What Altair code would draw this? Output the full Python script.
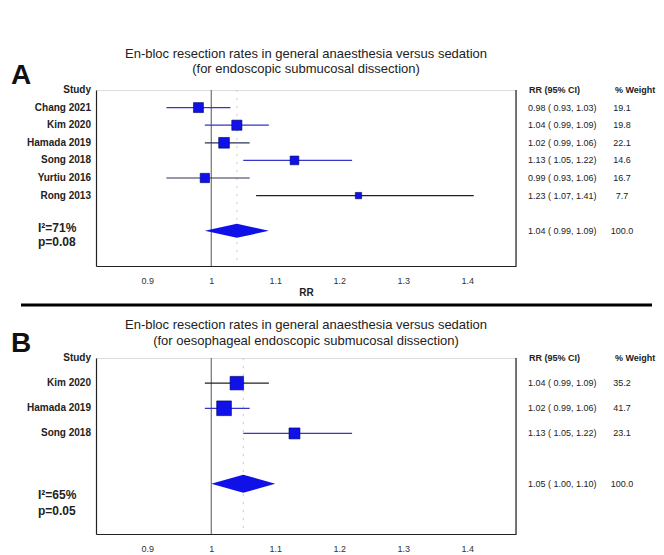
import altair as alt
import pandas as pd

# ---------------- data ----------------
A_title = ["En-bloc resection rates in general anaesthesia versus sedation",
           "(for endoscopic submucosal dissection)"]
A_studies = ["Chang 2021", "Kim 2020", "Hamada 2019", "Song 2018", "Yurtiu 2016", "Rong 2013"]
A_rr = [0.98, 1.04, 1.02, 1.13, 0.99, 1.23]
A_lo = [0.93, 0.99, 0.99, 1.05, 0.93, 1.07]
A_hi = [1.03, 1.09, 1.06, 1.22, 1.06, 1.41]
A_w = [19.1, 19.8, 22.1, 14.6, 16.7, 7.7]
A_pool = [1.04, 0.99, 1.09, 100.0]
A_stats = ["I²=71%", "p=0.08"]

B_title = ["En-bloc resection rates in general anaesthesia versus sedation",
           "(for oesophageal endoscopic submucosal dissection)"]
B_studies = ["Kim 2020", "Hamada 2019", "Song 2018"]
B_rr = [1.04, 1.02, 1.13]
B_lo = [0.99, 0.99, 1.05]
B_hi = [1.09, 1.06, 1.22]
B_w = [35.2, 41.7, 23.1]
B_pool = [1.05, 1.00, 1.10, 100.0]
B_stats = ["I²=65%", "p=0.05"]

x_ticks = [0.9, 1.0, 1.1, 1.2, 1.3, 1.4]

# ---------------- styles ----------------
W, H = 420, 176
XDOM = [0.82, 1.476]
FONT = "Liberation Sans"
BLUE = "#1010e8"
A_line_cols = ["#3535c8", "#3535c8", "#30305a", "#3535c8", "#30305a", "#222222"]
B_line_cols = ["#222222", "#3535c8", "#3535c8"]


def panel(letter, title, studies, rr, lo, hi, w, pool, stats, line_cols,
          ymax, diamond_row, diamond_h, size_max, extra_rule, title_y, stat_y):
    rows = list(range(1, len(studies) + 1))
    df = pd.DataFrame({
        "study": studies, "row": rows, "rr": rr, "lo": lo, "hi": hi, "w": w,
        "col": line_cols,
        "ci": [f"{a:.2f} ( {b:.2f}, {c:.2f})" for a, b, c in zip(rr, lo, hi)],
        "wt": [f"{v:.1f}" for v in w],
    })
    xs = alt.X("lo:Q", scale=alt.Scale(domain=XDOM, nice=False, zero=False),
               axis=alt.Axis(values=x_ticks, format="~g", title="RR", ticks=False,
                             grid=False, domainColor="#222", domainWidth=1.2,
                             labelFont=FONT, labelFontSize=9, labelColor="#333",
                             labelPadding=10, titleFont=FONT, titleFontSize=10,
                             titleFontWeight="bold", titlePadding=2, titleColor="#222"))
    ys = alt.Y("row:Q", scale=alt.Scale(domain=[0, ymax], reverse=True, nice=False, zero=False),
               axis=alt.Axis(labels=False, ticks=False, grid=False, title=None,
                             domainColor="#222", domainWidth=1.2))

    base = alt.Chart(df)

    ci = base.mark_rule(strokeWidth=1.2).encode(
        x=xs, x2="hi:Q", y=ys, color=alt.Color("col:N", scale=None))
    sq = base.mark_square(opacity=1, fill=BLUE, stroke="#000066", strokeWidth=0.6).encode(
        x="rr:Q", y="row:Q",
        size=alt.Size("w:Q", scale=alt.Scale(domain=[0, 100], range=[0, size_max]), legend=None))

    # reference lines
    ref = alt.Chart(pd.DataFrame({"v": [1.0]})).mark_rule(color="#555", strokeWidth=1).encode(
        x="v:Q", y=alt.value(0), y2=alt.value(H))
    pooled_line = alt.Chart(pd.DataFrame({"v": [pool[0]]})).mark_rule(
        color="#cccccc", strokeWidth=1, strokeDash=[2, 6]).encode(
        x="v:Q", y=alt.value(0), y2=alt.value(H))
    right_frame = alt.Chart(pd.DataFrame({"v": [0]})).mark_rule(color="#222", strokeWidth=1.2).encode(
        x=alt.value(W), y=alt.value(0), y2=alt.value(H))

    # diamond
    dd = pd.DataFrame({
        "x": [pool[1], pool[0], pool[2]],
        "top": [diamond_row, diamond_row - diamond_h, diamond_row],
        "bot": [diamond_row, diamond_row + diamond_h, diamond_row],
    })
    diamond = alt.Chart(dd).mark_area(color=BLUE, opacity=1, interpolate="linear").encode(
        x="x:Q", y="top:Q", y2="bot:Q")

    # left labels
    labels = base.mark_text(align="right", baseline="middle", font=FONT, fontSize=10,
                            fontWeight="bold", color="#222").encode(
        x=alt.value(-5), y="row:Q", text="study:N")
    study_hdr = alt.Chart(pd.DataFrame({"t": ["Study"]})).mark_text(
        align="right", baseline="middle", font=FONT, fontSize=10, fontWeight="bold",
        color="#222").encode(x=alt.value(-5), y=alt.value(0), text="t:N")
    stat_df = pd.DataFrame({"t": stats, "yy": stat_y})
    stat_txt = alt.Chart(stat_df).mark_text(
        align="left", baseline="middle", font=FONT, fontSize=12, fontWeight="bold",
        color="#222").encode(x=alt.value(-58), y=alt.Y("yy:Q", scale=None), text="t:N")

    # right text columns
    ci_txt = base.mark_text(align="left", baseline="middle", font=FONT, fontSize=9,
                            color="#222").encode(x=alt.value(W + 12), y="row:Q", text="ci:N")
    wt_txt = base.mark_text(align="center", baseline="middle", font=FONT, fontSize=9,
                            color="#222").encode(x=alt.value(W + 106), y="row:Q", text="wt:N")
    pool_df = pd.DataFrame({
        "row": [diamond_row],
        "ci": [f"{pool[0]:.2f} ( {pool[1]:.2f}, {pool[2]:.2f})"],
        "wt": [f"{pool[3]:.1f}"],
    })
    pci = alt.Chart(pool_df).mark_text(align="left", baseline="middle", font=FONT, fontSize=9,
                                       color="#222").encode(x=alt.value(W + 12), y="row:Q", text="ci:N")
    pwt = alt.Chart(pool_df).mark_text(align="center", baseline="middle", font=FONT, fontSize=9,
                                       color="#222").encode(x=alt.value(W + 106), y="row:Q", text="wt:N")
    hdr = alt.Chart(pd.DataFrame({"t": ["RR (95% CI)", "% Weight"], "xx": [W + 13, W + 99]})).mark_text(
        align="left", baseline="middle", font=FONT, fontSize=9, fontWeight="bold", color="#222").encode(
        x=alt.X("xx:Q", scale=None), y=alt.value(0), text="t:N")

    # title lines
    tdf = pd.DataFrame({"t": title, "yy": title_y})
    ttl = alt.Chart(tdf).mark_text(align="center", baseline="middle", font=FONT, fontSize=13,
                                   color="#222").encode(
        x=alt.value(W / 2), y=alt.Y("yy:Q", scale=None), text="t:N")
    let = alt.Chart(pd.DataFrame({"t": [letter]})).mark_text(
        align="left", baseline="alphabetic", font=FONT, fontSize=28, fontWeight="bold",
        color="#111").encode(x=alt.value(-85), y=alt.value(-6), text="t:N")

    layers = [pooled_line, ref, right_frame, ci, sq, diamond, labels, study_hdr, stat_txt,
              ci_txt, wt_txt, pci, pwt, hdr, ttl, let]
    if extra_rule:
        sep = alt.Chart(pd.DataFrame({"v": [0]})).mark_rule(color="#000", strokeWidth=3).encode(
            x=alt.value(-75), x2=alt.value(556), y=alt.value(H + 39))
        layers.append(sep)
    return alt.layer(*layers).properties(width=W, height=H)


pA = panel("A", A_title, A_studies, A_rr, A_lo, A_hi, A_w, A_pool, A_stats, A_line_cols,
           ymax=10, diamond_row=8, diamond_h=0.4, size_max=520, extra_rule=True,
           title_y=[-36, -21], stat_y=[138, 152])
pB = panel("B", B_title, B_studies, B_rr, B_lo, B_hi, B_w, B_pool, B_stats, B_line_cols,
           ymax=7, diamond_row=5, diamond_h=0.36, size_max=650, extra_rule=False,
           title_y=[-33, -17], stat_y=[137, 153])

chart = alt.vconcat(pA, pB, spacing=92, bounds="flush").properties(
    padding={"left": 2, "top": 39, "right": 0, "bottom": 0}
).configure_view(stroke=None).configure(background="white")

chart.save("out.html", embed_options={"renderer": "svg", "actions": False})
